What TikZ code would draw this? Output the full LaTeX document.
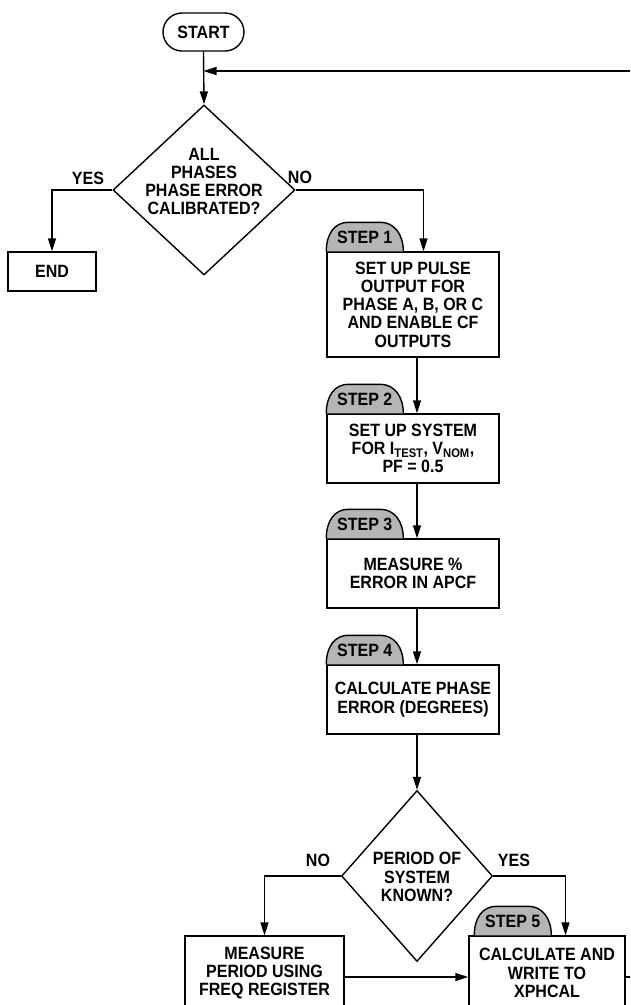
\documentclass[tikz,border=0pt]{standalone}
\usepackage{fontspec}
\setmainfont{Liberation Sans}[FakeStretch=0.9]
\usetikzlibrary{arrows.meta,shapes.geometric,calc}
\definecolor{tabgrey}{HTML}{B5B5B5}
\tikzset{
  txt/.style={font=\bfseries\fontsize{17.8}{18.3}\selectfont, align=center, inner sep=0pt},
  boxn/.style={draw, line width=1.4pt, rectangle, inner sep=0pt, txt},
  diam/.style={draw, line width=1.4pt, diamond, inner sep=0pt},
  conn/.style={line width=1.4pt},
  arr/.style={conn, -{Triangle[length=13pt,width=8pt]}},
  tabshape/.style={draw, line width=1.4pt, fill=tabgrey},
}
\begin{document}
\begin{tikzpicture}[x=1pt,y=-1pt]
\useasboundingbox (0,0) rectangle (630,1005);
\clip (0,0) rectangle (630,1005);

% START
\node[boxn, rounded corners=19pt, minimum width=81pt, minimum height=38pt] (start) at (203.5,32) {START};

% Decision 1
\node[diam, minimum width=182pt, minimum height=170pt] (d1) at (204,190) {};
\node[txt] (d1t) at (204,181.5) {ALL\\PHASES\\PHASE ERROR\\CALIBRATED?};

% END
\node[boxn, minimum width=88pt, minimum height=39pt] (endb) at (52,271.5) {END};

% Steps 1-4
\node[boxn, minimum width=172pt, minimum height=105pt] (s1) at (413,304.5) {SET UP PULSE\\OUTPUT FOR\\PHASE A, B, OR C\\AND ENABLE CF\\OUTPUTS};
\node[boxn, minimum width=172pt, minimum height=69pt] (s2) at (413,448.5) {SET UP SYSTEM\\FOR I\textsubscript{TEST}, V\textsubscript{NOM},\\PF = 0.5};
\node[boxn, minimum width=172pt, minimum height=69pt] (s3) at (413,573.5) {MEASURE \%\\ERROR IN APCF};
\node[boxn, minimum width=172pt, minimum height=69pt] (s4) at (413,699.5) {CALCULATE PHASE\\ERROR (DEGREES)};

% Decision 2
\node[diam, minimum width=151pt, minimum height=171pt] (d2) at (417,876) {};
\node[txt] (d2t) at (417,877) {PERIOD OF\\SYSTEM\\KNOWN?};

% Bottom boxes
\node[boxn, minimum width=159pt, minimum height=74pt] (meas) at (264.5,973) {MEASURE\\PERIOD USING\\FREQ REGISTER};
\node[boxn, minimum width=156pt, minimum height=74pt] (s5) at (547,973) {CALCULATE AND\\WRITE TO\\XPHCAL};

% Step tabs
\foreach \nm/\num/\off in {s1/1/0, s2/2/0, s3/3/0, s4/4/0, s5/5/6}{
  \begin{scope}[shift={(\nm.north west)}, xshift=\off pt]
    \draw[tabshape] (0,0) .. controls (0,-17) and (8,-29) .. (22,-29) -- (54,-29) .. controls (68,-29) and (77,-17) .. (77,0);
    \node[txt] (tab\num) at (38.5,-14) {STEP \num};
  \end{scope}
}

% Connectors
\coordinate (fb) at (640,71);
\coordinate (out) at (640,977);
\draw[arr] (start.south) -- (d1.north);
\draw[arr] (fb) -- (start.south |- fb);
\draw[arr] (d1.west) -| (endb.north);
\node[txt] (yes1) at (88,178) {YES};
\draw[arr] (d1.east) -| ([xshift=10.5pt]s1.north);
\node[txt] (no1) at (300,177) {NO};
\draw[arr] ([xshift=4pt]s1.south) -- ([xshift=4pt]s2.north);
\draw[arr] ([xshift=4pt]s2.south) -- ([xshift=4pt]s3.north);
\draw[arr] ([xshift=4pt]s3.south) -- ([xshift=4pt]s4.north);
\draw[arr] ([xshift=4pt]s4.south) -- (d2.north);
\draw[arr] (d2.west) -| (meas.north);
\node[txt] (no2) at (318,860) {NO};
\draw[arr] (d2.east) -| ([xshift=18.5pt]s5.north);
\node[txt] (yes2) at (514,860) {YES};
\draw[arr] ([yshift=-4pt]meas.east) -- ([yshift=-4pt]s5.west);
\draw[conn] ([yshift=-4pt]s5.east) -- ([yshift=-4pt]s5.east -| out);
\end{tikzpicture}
\end{document}
